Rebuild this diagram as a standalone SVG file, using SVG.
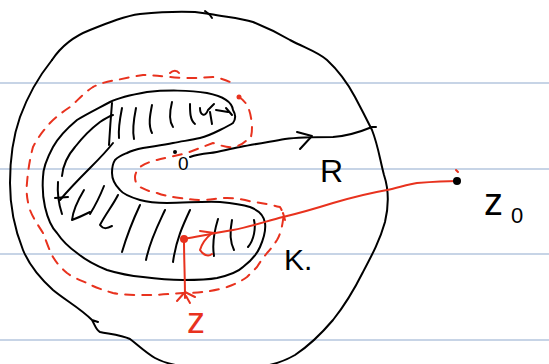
<svg xmlns="http://www.w3.org/2000/svg" width="549" height="364" viewBox="0 0 549 364">
<style>
.rule{stroke:#b4c6de;stroke-width:1.5}
.ink{fill:none;stroke:#000;stroke-width:2;stroke-linecap:round;stroke-linejoin:round}
.red{fill:none;stroke:#e8321e;stroke-width:2;stroke-linecap:round;stroke-linejoin:round}
.dash{stroke-dasharray:9 8}
.lbl{font-family:"Liberation Sans",Arial,sans-serif}
</style>
<rect width="549" height="364" fill="#fff"/>
<g id="paper">
<line class="rule" x1="0" y1="83" x2="549" y2="83"/>
<line class="rule" x1="0" y1="169" x2="549" y2="169"/>
<line class="rule" x1="0" y1="254" x2="549" y2="254"/>
<line class="rule" x1="0" y1="340" x2="549" y2="340"/>
</g>
<g id="outer-disc">
<path class="ink" d="M52,60 C60,48 72,37 90,30 C110,22 125,16 140,14 C160,12 175,11 195,12 L210,14 C225,17 240,18 253,22 C268,28 278,33 290,40 C305,48 318,52 327,60 C340,72 347,82 355,97 C363,112 368,122 372,130 C378,145 380,160 384,175 C389,190 389,205 385,222 C380,240 372,255 363,272 C355,288 345,305 333,320 C322,333 310,345 295,355 C285,361 275,364 265,366"/>
<path class="ink" d="M52,60 C40,75 28,95 20,117 C13,137 10,160 10,183 C10,205 15,230 23,250 C30,267 42,280 53,290 C65,300 80,308 92,320 L98,322 M92,320 C95,325 96,330 100,332 C110,334 122,335 130,339 C138,345 145,352 155,358 C162,362 170,364 180,366"/>
<path class="ink" d="M205,11 L210,15 L212,18"/>
</g>
<g id="set-K">
<path class="ink" d="M233,110 C232,102 222,96 207,93 C190,90 165,90 147,92 C130,95 118,98 110,102 C95,110 85,115 77,120 C65,130 58,138 53,147 C46,160 43,170 43,177 C42,190 43,198 45,207 C48,220 52,228 57,233 C63,242 70,248 77,253 C88,262 97,266 107,270 C120,274 132,276 143,277 C158,279 170,280 183,280 C197,280 207,280 217,278 C230,275 238,272 243,267 C252,260 257,254 260,247 C264,238 266,230 265,223 C264,215 258,210 250,207 C240,204 230,203 220,202 C205,201 185,203 167,203 C155,203 147,202 140,200 C130,197 123,194 120,190 C114,184 112,178 112,173 C112,167 113,163 115,160 C119,156 122,155 127,153 C133,150 138,149 143,148 C155,146 163,145 173,143 C183,141 192,140 200,138 C208,136 214,133 220,130 C226,127 230,125 233,123 C236,119 236,115 233,110 Z"/>
<path class="ink" d="M62,176 C63,165 68,155 75,147 C82,138 92,128 100,122 C106,118 110,116 113,115"/>
<path class="ink" d="M60,200 C70,188 80,178 90,168 C98,160 106,152 113,143"/>
<g id="hatch">
<path class="ink" d="M112,103 C111,115 110,128 109,145"/>
<path class="ink" d="M122,108 C120,118 118,128 119,138"/>
<path class="ink" d="M136,108 C134,118 132,130 134,139"/>
<path class="ink" d="M152,105 C150,115 148,125 152,133"/>
<path class="ink" d="M172,102 C170,110 168,120 173,127"/>
<path class="ink" d="M190,104 C190,112 190,120 195,124"/>
<path class="ink" d="M200,108 C200,115 205,118 208,110 L214,104 M210,112 L212,124 M216,110 L228,112 M226,108 L232,115"/>
<path class="ink" d="M58,182 C57,195 59,205 62,214"/>
<path class="ink" d="M55,198 L68,197"/>
<path class="ink" d="M84,190 C78,200 73,210 72,220 C80,217 86,214 90,212"/>
<path class="ink" d="M104,186 C100,196 95,206 90,214"/>
<path class="ink" d="M118,195 C113,205 105,215 100,225 C104,230 108,228 112,226"/>
<path class="ink" d="M140,205 C133,220 127,235 122,252"/>
<path class="ink" d="M165,210 C158,225 150,240 146,260"/>
<path class="ink" d="M190,210 C183,225 176,240 173,262"/>
<path class="ink" d="M218,219 C214,232 212,244 214,256"/>
<path class="ink" d="M232,220 C230,230 230,242 234,250"/>
<path class="ink" d="M254,220 C256,228 254,240 248,247"/>
</g>
</g>
<g id="radius">
<path class="ink" d="M190,157 C195,155 200,154 210,153 C220,152 228,149 240,147 C255,144 268,142 285,139 C300,137 318,137 333,137 C348,136 360,132 372,127 L376,127"/>
<path class="ink" d="M297,132 L312,136 L300,149"/>
<circle cx="175" cy="152" r="2" fill="#000"/>
<text class="lbl" x="178" y="170" font-size="19">0</text>
<text class="lbl" x="320" y="182" font-size="32">R</text>
</g>
<g id="contour">
<circle cx="239" cy="97" r="2.5" fill="#e8321e"/>
<path class="red dash" d="M239,97 C247,102 251,110 252,127 C252,137 250,141 247,140 C242,145 238,146 233,147 C225,148 218,144 213,143 C200,148 192,151 187,153 C175,156 165,158 157,160 C148,162 143,165 140,167 C136,171 135,175 135,177 C135,182 137,185 140,187 C146,190 150,192 157,193 C165,196 172,197 180,198 C188,199 193,200 200,200 C210,200 218,198 227,198 C236,198 245,200 253,202 C263,203 272,205 280,207 C283,212 284,216 283,220 C282,228 280,235 277,240 C273,246 270,250 267,253 C263,258 260,262 257,267 C253,271 250,274 247,277 C240,282 233,285 227,287 C218,290 210,291 203,292 C196,293 190,293 183,293 C170,294 158,295 147,295 C135,295 123,295 113,293 C103,290 94,287 87,283 C80,280 72,277 67,273 C60,267 56,262 53,257 C49,250 46,240 43,233 C38,225 33,218 30,210 C27,200 26,192 27,183 C28,170 30,158 33,147 C38,137 44,130 50,123 C57,116 64,111 70,107 C78,100 85,92 93,87 C101,83 109,81 117,80 C126,78 135,76 143,75 C152,75 160,76 170,77 C178,78 186,78 193,78 C200,78 207,77 213,77 C220,78 226,80 230,82"/>
<path class="red" d="M170,73 C173,70 177,70 179,73"/>
</g>
<g id="paths">
<path class="red" d="M184,239 C200,236 215,233 233,230 C250,227 267,221 283,217 C300,213 317,208 333,203 C350,198 370,193 387,190 C400,187 410,184 417,183 C430,182 445,181 457,181"/>
<path class="red" d="M184,240 C184,258 185,278 185,298"/>
<path class="red" d="M177,301 L185,292 L195,297 M186,296 L190,303"/>
<circle cx="184" cy="239" r="4" fill="#e8321e"/>
<path class="red" d="M200,231 L214,233 M212,233 C206,238 202,243 200,250 C203,255 208,257 212,254"/>
<circle cx="457" cy="181" r="4" fill="#000"/>
<path class="red" d="M456,170 L458,172"/>
<path class="red" d="M283,213 L285,220"/>
</g>
<g id="labels">
<text class="lbl" x="284" y="270" font-size="30">K.</text>
<text class="lbl" x="187" y="333" font-size="36" fill="#e8321e">z</text>
<text class="lbl" x="484" y="215" font-size="38">z</text>
<text class="lbl" x="511" y="223" font-size="22">0</text>
</g>
</svg>
